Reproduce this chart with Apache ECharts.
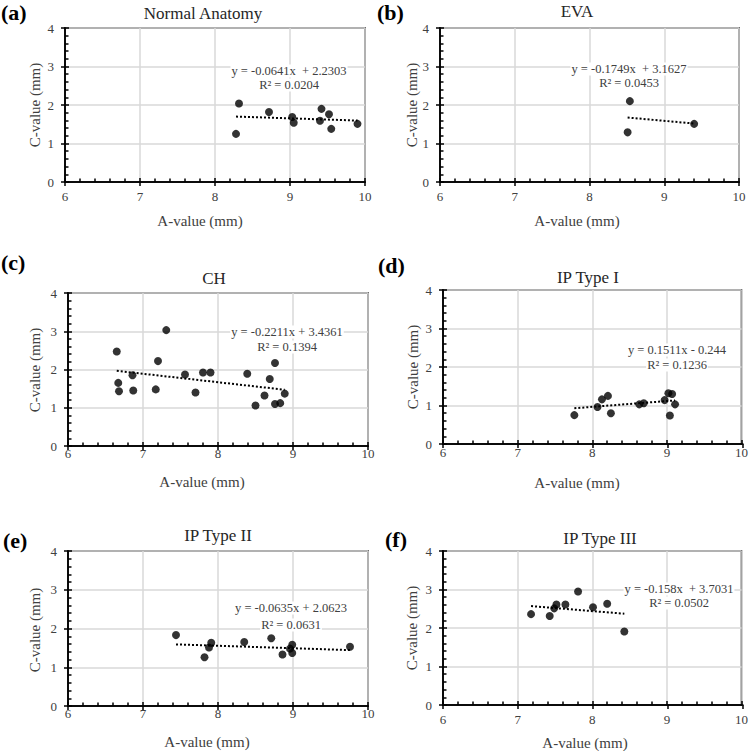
<!DOCTYPE html>
<html>
<head>
<meta charset="utf-8">
<script src="https://cdn.jsdelivr.net/npm/echarts@6/dist/echarts.min.js"></script>
<style>html,body{margin:0;padding:0;background:#fff}#c{width:751px;height:751px}</style>
</head>
<body>
<div id="c"></div>
<script>
// ---- data ----
const panelLabels = ['(a)', '(b)', '(c)', '(d)', '(e)', '(f)'];
const panelTitles = ['Normal Anatomy', 'EVA', 'CH', 'IP Type I', 'IP Type II', 'IP Type III'];
const xAxisName = 'A-value (mm)';
const yAxisName = 'C-value (mm)';
const xTicks = [6, 7, 8, 9, 10];
const yTicks = [0, 1, 2, 3, 4];

const aX = [8.28, 8.32, 8.72, 9.03, 9.05, 9.40, 9.42, 9.52, 9.55, 9.90];
const aY = [1.25, 2.04, 1.82, 1.69, 1.54, 1.59, 1.90, 1.76, 1.38, 1.51];

const bX = [8.51, 8.54, 9.40];
const bY = [1.29, 2.10, 1.51];

const cX = [6.65, 6.67, 6.68, 6.86, 6.87, 7.17, 7.20, 7.31, 7.56, 7.70, 7.80, 7.90, 8.39, 8.50, 8.62, 8.69, 8.76, 8.76, 8.83, 8.89];
const cY = [2.47, 1.65, 1.43, 1.85, 1.45, 1.48, 2.22, 3.03, 1.87, 1.40, 1.92, 1.92, 1.89, 1.06, 1.32, 1.75, 2.17, 1.10, 1.12, 1.37];

const dX = [7.76, 8.07, 8.13, 8.21, 8.25, 8.63, 8.69, 8.97, 9.02, 9.07, 9.04, 9.11];
const dY = [0.75, 0.96, 1.16, 1.25, 0.80, 1.03, 1.06, 1.14, 1.32, 1.30, 0.74, 1.03];

const eX = [7.44, 7.82, 7.88, 7.91, 8.35, 8.71, 8.86, 8.96, 8.99, 8.99, 9.76];
const eY = [1.83, 1.26, 1.51, 1.63, 1.65, 1.75, 1.33, 1.48, 1.58, 1.37, 1.53];

const fX = [7.18, 7.43, 7.49, 7.52, 7.64, 7.81, 8.01, 8.20, 8.43];
const fY = [2.36, 2.31, 2.51, 2.61, 2.61, 2.95, 2.54, 2.63, 1.91];

// trendline equations as printed on the chart
const trendSlope = [-0.0641, -0.1749, -0.2211, 0.1511, -0.0635, -0.158];
const trendIntercept = [2.2303, 3.1627, 3.4361, -0.244, 2.0623, 3.7031];
const eqText = ['y = -0.0641x  + 2.2303', 'y = -0.1749x  + 3.1627', 'y = -0.2211x + 3.4361',
                'y = 0.1511x - 0.244', 'y = -0.0635x + 2.0623', 'y = -0.158x  + 3.7031'];
const r2Text = ['R\u00B2 = 0.0204', 'R\u00B2 = 0.0453', 'R\u00B2 = 0.1394',
                'R\u00B2 = 0.1236', 'R\u00B2 = 0.0631', 'R\u00B2 = 0.0502'];

const seriesX = [aX, bX, cX, dX, eX, fX];
const seriesY = [aY, bY, cY, dY, eY, fY];

// ---- layout (styling only) ----
const grids = [
  {left: 65, top: 28, width: 300, height: 154},
  {left: 440, top: 28, width: 299, height: 154},
  {left: 68, top: 293, width: 300, height: 153},
  {left: 443, top: 290, width: 300, height: 154},
  {left: 68, top: 551, width: 300, height: 155},
  {left: 443, top: 551, width: 300, height: 154}
];
const xLabelMargin = [8, 8, 1, 2, 1, 8];
const titlePos = [[203, 13], [577, 11], [214, 278], [588, 277], [218, 535], [600, 538]];
const xNamePos = [[200, 221], [577, 221], [202, 482], [577, 483], [207, 742], [585, 743]];
const yNamePos = [[35, 105], [412, 105], [35, 370], [413, 367], [35, 630], [412, 628]];
const eqPos = [[289, 71, 85], [629, 69, 83], [287, 332, 347], [677, 350, 365], [291, 608, 625], [679, 589, 603]];
const labelPos = [[1, 13], [377, 13], [1, 263], [378, 266], [3, 541], [385, 540]];

const FONT = 'Liberation Serif';
const chart = echarts.init(document.getElementById('c'), null, {renderer: 'svg'});

const N = grids.length;
const xAxes = [], yAxes = [], series = [], graphics = [];
const xMin = xTicks[0], xMax = xTicks[xTicks.length - 1];
const yMin = yTicks[0], yMax = yTicks[yTicks.length - 1];
const gridOpts = [];
const LW = 1.5;

grids.forEach((g, i) => {
  gridOpts[i] = Object.assign({show: true, borderColor: '#000', borderWidth: LW, backgroundColor: 'transparent'}, g);
  gridOpts[N + i] = Object.assign({show: false}, g);
  // main axes: labels, split lines, inside ticks + minor ticks
  xAxes[i] = {
    type: 'value', gridIndex: i, min: xMin, max: xMax, interval: 1, position: 'bottom',
    axisLine: {show: true, onZero: false, lineStyle: {color: '#000', width: LW}},
    axisTick: {show: true, inside: true, length: 4, lineStyle: {color: '#000', width: LW}},
    minorTick: {show: true, splitNumber: 5, length: 3.5, lineStyle: {color: '#000', width: LW}},
    axisLabel: {show: true, margin: xLabelMargin[i], fontFamily: FONT, fontSize: 13, color: '#404040'},
    splitLine: {show: true, lineStyle: {color: '#d9d9d9', width: 1.5}}
  };
  yAxes[i] = {
    type: 'value', gridIndex: i, min: yMin, max: yMax, interval: 1, position: 'left',
    axisLine: {show: true, onZero: false, lineStyle: {color: '#000', width: LW}},
    axisTick: {show: true, inside: true, length: 4, lineStyle: {color: '#000', width: LW}},
    minorTick: {show: true, splitNumber: 5, length: 3.5, lineStyle: {color: '#000', width: LW}},
    axisLabel: {show: true, margin: 11, fontFamily: FONT, fontSize: 13, color: '#404040'},
    splitLine: {show: true, lineStyle: {color: '#d9d9d9', width: 1.5}}
  };
  // overlay axes: outward half of the crossing major ticks
  xAxes[N + i] = {
    type: 'value', gridIndex: N + i, min: xMin, max: xMax, interval: 1, position: 'bottom',
    axisLine: {show: true, onZero: false, lineStyle: {color: '#000', width: LW}},
    axisTick: {show: true, inside: false, length: 4, lineStyle: {color: '#000', width: LW}},
    axisLabel: {show: false}, splitLine: {show: false}
  };
  yAxes[N + i] = {
    type: 'value', gridIndex: N + i, min: yMin, max: yMax, interval: 1, position: 'left',
    axisLine: {show: true, onZero: false, lineStyle: {color: '#000', width: LW}},
    axisTick: {show: true, inside: false, length: 4, lineStyle: {color: '#000', width: LW}},
    axisLabel: {show: false}, splitLine: {show: false}
  };

  const xs = seriesX[i], ys = seriesY[i];
  const pts = xs.map((x, k) => [x, ys[k]]);
  const x0 = Math.min.apply(null, xs), x1 = Math.max.apply(null, xs);
  series.push({
    type: 'line', xAxisIndex: i, yAxisIndex: i, symbol: 'none', silent: true,
    data: [[x0, trendSlope[i] * x0 + trendIntercept[i]], [x1, trendSlope[i] * x1 + trendIntercept[i]]],
    lineStyle: {color: '#000', width: 2, type: [2, 2]}, z: 2, animation: false
  });
  series.push({
    type: 'scatter', xAxisIndex: i, yAxisIndex: i, data: pts,
    symbol: 'circle', symbolSize: 8, itemStyle: {color: '#000'}, z: 3, animation: false
  });

  graphics.push({type: 'text', left: labelPos[i][0], top: labelPos[i][1] - 12,
    style: {text: panelLabels[i], font: 'bold 22px ' + FONT, fill: '#000'}});
  graphics.push({type: 'text', x: titlePos[i][0], y: titlePos[i][1],
    style: {text: panelTitles[i], font: '17px ' + FONT, fill: '#262626', textAlign: 'center', textVerticalAlign: 'middle'}});
  graphics.push({type: 'text', x: xNamePos[i][0], y: xNamePos[i][1],
    style: {text: xAxisName, font: '15px ' + FONT, fill: '#404040', textAlign: 'center', textVerticalAlign: 'middle'}});
  graphics.push({type: 'text', x: yNamePos[i][0], y: yNamePos[i][1], rotation: Math.PI / 2,
    style: {text: yAxisName, font: '15px ' + FONT, fill: '#404040', textAlign: 'center', textVerticalAlign: 'middle'}});
  graphics.push({type: 'text', x: eqPos[i][0], y: eqPos[i][1], z: 10,
    style: {text: eqText[i], font: '12.5px ' + FONT, fill: '#404040', textAlign: 'center', textVerticalAlign: 'middle',
            backgroundColor: '#fff', padding: [0, 1]}});
  graphics.push({type: 'text', x: eqPos[i][0], y: eqPos[i][2], z: 10,
    style: {text: r2Text[i], font: '12.5px ' + FONT, fill: '#404040', textAlign: 'center', textVerticalAlign: 'middle',
            backgroundColor: '#fff', padding: [0, 1]}});
});

chart.setOption({
  animation: false,
  backgroundColor: '#fff',
  grid: gridOpts,
  xAxis: xAxes,
  yAxis: yAxes,
  series: series,
  graphic: graphics
});
</script>
</body>
</html>
